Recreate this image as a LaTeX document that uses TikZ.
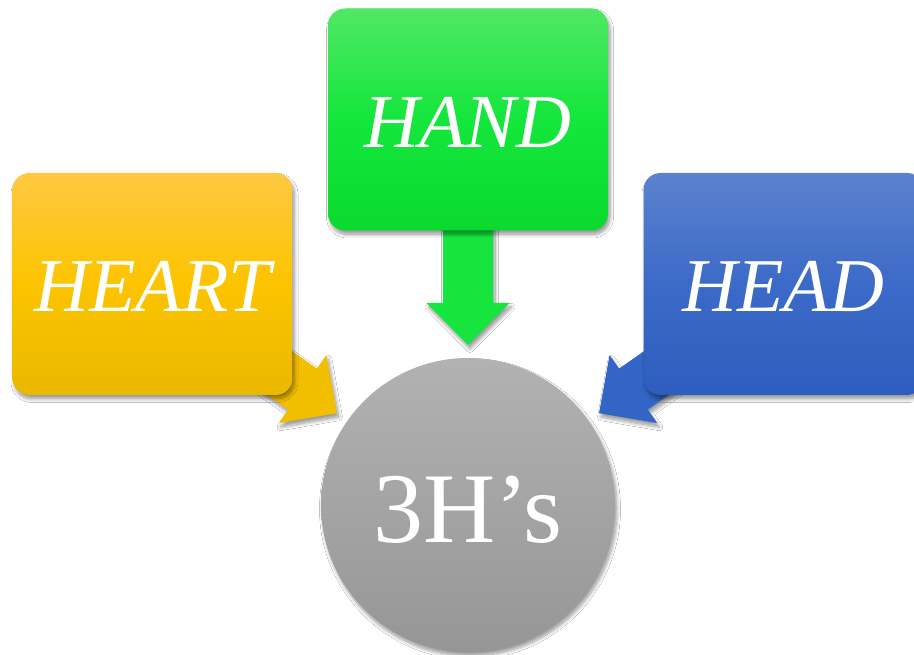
\documentclass[tikz,border=0pt]{standalone}
\usepackage{fontspec}
\setmainfont{Liberation Serif}
\usetikzlibrary{calc,shadows.blur}
\definecolor{orT}{RGB}{254,200,66}
\definecolor{orM}{RGB}{252,196,0}
\definecolor{orB}{RGB}{234,184,0}
\definecolor{orA}{RGB}{242,191,0}
\definecolor{grT}{RGB}{80,232,100}
\definecolor{grM}{RGB}{20,230,60}
\definecolor{grB}{RGB}{10,218,45}
\definecolor{grA}{RGB}{21,229,62}
\definecolor{blT}{RGB}{92,130,205}
\definecolor{blM}{RGB}{60,106,200}
\definecolor{blB}{RGB}{45,93,190}
\definecolor{blA}{RGB}{50,101,197}
\definecolor{gyT}{RGB}{178,178,178}
\definecolor{gyB}{RGB}{150,150,150}
\pgfdeclarelayer{bg}
\pgfsetlayers{bg,main}
\newcommand{\blockarrow}[3]{%
  \coordinate (hbase) at ($(#2.center)!202pt!(#1.center)$);
  \coordinate (tipp) at ($(#2.center)!160pt!(#1.center)$);
  \fill[#3, softshadow] (tipp) -- ($(hbase)!41.5pt!90:(#1.center)$) -- ($(hbase)!25pt!90:(#1.center)$)
    -- ($(#1.center)!25pt!-90:(#2.center)$) -- ($(#1.center)!25pt!90:(#2.center)$)
    -- ($(hbase)!25pt!-90:(#1.center)$) -- ($(hbase)!41.5pt!-90:(#1.center)$) -- cycle;
}
\begin{document}
\begin{tikzpicture}[x=1pt,y=1pt,
  softshadow/.style={blur shadow={shadow xshift=2pt, shadow yshift=-4pt, shadow blur radius=3.5pt, shadow blur steps=8, shadow opacity=40}},
  hbox/.style={rectangle, rounded corners=17pt, minimum width=280pt, minimum height=222pt,
    inner sep=0pt, text=white, font=\fontsize{76}{80}\selectfont\itshape, text height=56pt, softshadow},
  hcirc/.style={circle, minimum size=294pt, inner sep=0pt, text=white,
    font=\fontsize{100}{110}\selectfont, text height=76pt, softshadow}]
\useasboundingbox (0,0) rectangle (914,655);
\node[hbox, top color=orT, bottom color=orB, middle color=orM] (heart) at (152.5,371) {HEART};
\node[hbox, top color=grT, bottom color=grB, middle color=grM] (hand) at (468,535.5) {HAND};
\node[hbox, top color=blT, bottom color=blB, middle color=blM] (head) at (783.5,371) {HEAD};
\node[hcirc, top color=gyT, bottom color=gyB] (core) at (468,150) {3H’s};
\begin{pgfonlayer}{bg}
\fill[white] (0,0) rectangle (914,655);
\blockarrow{heart}{core}{orA}
\blockarrow{hand}{core}{grA}
\blockarrow{head}{core}{blA}
\end{pgfonlayer}
\end{tikzpicture}
\end{document}
